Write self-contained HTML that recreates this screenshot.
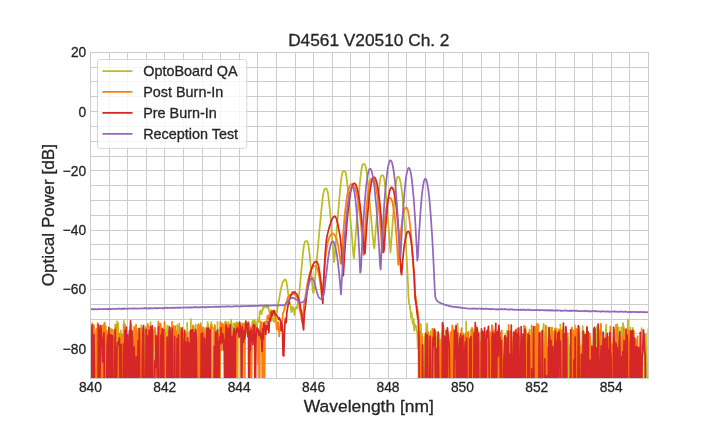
<!DOCTYPE html>
<html><head><meta charset="utf-8"><title>D4561 V20510 Ch. 2</title>
<style>
html,body{margin:0;padding:0;background:#fff;}
svg{display:block;will-change:transform;font-family:"Liberation Sans",sans-serif;fill:#262626;}
text{stroke:#262626;stroke-width:0.3;}
.ln{fill:none;stroke-width:1.75;stroke-linejoin:round;stroke-linecap:butt;}
.lg{fill:none;stroke-width:1.75;stroke-linecap:round;}
</style></head><body>
<svg width="720" height="432" viewBox="0 0 720 432">
<rect width="720" height="432" fill="#ffffff"/>
<defs><clipPath id="c"><rect x="90.0" y="52.0" width="558.0" height="326.0"/></clipPath></defs>
<path d="M109.5,52.5V378.5M127.5,52.5V378.5M146.5,52.5V378.5M164.5,52.5V378.5M183.5,52.5V378.5M202.5,52.5V378.5M220.5,52.5V378.5M239.5,52.5V378.5M257.5,52.5V378.5M276.5,52.5V378.5M295.5,52.5V378.5M313.5,52.5V378.5M332.5,52.5V378.5M350.5,52.5V378.5M369.5,52.5V378.5M388.5,52.5V378.5M406.5,52.5V378.5M425.5,52.5V378.5M443.5,52.5V378.5M462.5,52.5V378.5M481.5,52.5V378.5M499.5,52.5V378.5M518.5,52.5V378.5M536.5,52.5V378.5M555.5,52.5V378.5M574.5,52.5V378.5M592.5,52.5V378.5M611.5,52.5V378.5M629.5,52.5V378.5M90.5,67.5H648.5M90.5,81.5H648.5M90.5,96.5H648.5M90.5,111.5H648.5M90.5,126.5H648.5M90.5,141.5H648.5M90.5,156.5H648.5M90.5,170.5H648.5M90.5,185.5H648.5M90.5,200.5H648.5M90.5,215.5H648.5M90.5,230.5H648.5M90.5,244.5H648.5M90.5,259.5H648.5M90.5,274.5H648.5M90.5,289.5H648.5M90.5,304.5H648.5M90.5,319.5H648.5M90.5,333.5H648.5M90.5,348.5H648.5M90.5,363.5H648.5" stroke="#cccccc" stroke-width="1" fill="none"/>
<g clip-path="url(#c)">
<path class="ln" stroke="#bcbd22" d="M89.2,430.0 L89.8,430.0 L90.4,336.2 L91.1,430.0 L91.7,327.4 L92.3,323.2 L92.9,430.0 L93.5,337.2 L94.2,326.9 L94.8,334.5 L95.4,430.0 L96.6,430.0 L97.3,338.4 L97.9,430.0 L98.5,430.0 L99.1,343.1 L99.7,430.0 L102.2,430.0 L102.8,341.5 L103.5,430.0 L104.1,328.8 L104.7,324.0 L105.3,430.0 L105.9,326.2 L106.6,430.0 L107.2,430.0 L107.8,335.6 L108.4,430.0 L109.0,430.0 L109.7,328.3 L110.3,329.0 L110.9,430.0 L113.4,430.0 L114.0,350.2 L114.6,430.0 L115.2,324.4 L115.9,430.0 L116.5,430.0 L117.1,321.3 L117.7,340.0 L118.3,323.1 L119.0,430.0 L119.6,430.0 L120.2,342.9 L120.8,330.4 L121.4,430.0 L122.1,338.7 L122.7,430.0 L123.3,430.0 L123.9,321.0 L124.5,430.0 L125.2,324.3 L125.8,430.0 L126.4,328.3 L127.0,430.0 L128.3,430.0 L128.9,337.7 L129.5,430.0 L130.1,327.1 L130.7,328.4 L131.4,324.3 L132.0,430.0 L132.6,430.0 L133.2,338.7 L133.8,339.6 L134.5,330.8 L135.1,430.0 L135.7,430.0 L136.3,328.5 L136.9,430.0 L138.8,430.0 L139.4,328.6 L140.0,430.0 L140.7,430.0 L141.3,325.2 L141.9,430.0 L142.5,328.2 L143.1,330.4 L143.8,430.0 L144.4,430.0 L145.0,329.8 L145.6,328.4 L146.2,326.5 L146.9,342.9 L147.5,339.9 L148.1,340.0 L148.7,430.0 L150.0,430.0 L150.6,322.2 L151.2,430.0 L153.1,430.0 L153.7,332.3 L154.3,430.0 L155.5,430.0 L156.2,353.7 L156.8,430.0 L157.4,339.1 L158.0,430.0 L158.6,332.2 L159.3,430.0 L159.9,342.2 L160.5,430.0 L162.4,430.0 L163.0,331.7 L163.6,430.0 L166.1,430.0 L166.7,337.7 L167.3,326.2 L167.9,325.7 L168.6,430.0 L169.2,327.0 L169.8,430.0 L171.7,430.0 L172.3,329.0 L172.9,359.7 L173.5,430.0 L174.1,328.3 L174.8,430.0 L175.4,330.7 L176.0,430.0 L176.6,430.0 L177.2,325.0 L177.9,330.5 L178.5,352.2 L179.1,323.3 L179.7,430.0 L180.3,338.6 L181.0,430.0 L182.8,430.0 L183.4,331.6 L184.1,329.7 L184.7,368.6 L185.3,430.0 L186.5,430.0 L187.2,322.9 L187.8,430.0 L188.4,343.6 L189.0,430.0 L189.6,430.0 L190.3,343.4 L190.9,319.1 L191.5,430.0 L192.1,430.0 L192.7,334.7 L193.4,326.3 L194.0,430.0 L194.6,430.0 L195.2,328.7 L195.8,324.5 L196.5,430.0 L199.6,430.0 L200.2,335.4 L200.8,323.0 L201.4,430.0 L204.5,430.0 L205.1,329.2 L205.8,430.0 L206.4,327.1 L207.0,430.0 L207.6,322.1 L208.2,325.5 L208.9,430.0 L209.5,330.8 L210.1,327.3 L210.7,430.0 L211.3,322.2 L212.0,328.0 L212.6,327.9 L213.2,328.2 L213.8,328.2 L214.4,430.0 L215.1,326.8 L215.7,338.6 L216.3,331.9 L216.9,430.0 L217.5,322.0 L218.2,430.0 L218.8,330.2 L219.4,331.4 L220.0,328.3 L220.6,329.2 L221.3,327.7 L221.9,342.4 L222.5,328.9 L223.1,324.1 L223.7,345.5 L224.4,333.3 L225.0,328.9 L225.6,321.3 L226.2,333.2 L226.8,430.0 L227.5,322.7 L228.1,330.3 L228.7,322.2 L229.3,330.4 L229.9,324.8 L230.6,329.2 L231.2,319.7 L231.8,328.3 L232.4,353.8 L233.0,335.7 L233.7,323.3 L234.3,328.2 L234.9,323.3 L235.5,332.1 L236.1,323.2 L236.8,322.3 L237.4,430.0 L238.0,322.8 L238.6,326.2 L239.2,337.1 L239.9,329.3 L240.5,327.2 L241.1,324.8 L241.7,430.0 L242.3,324.6 L243.0,328.4 L243.6,325.2 L244.2,336.6 L244.8,322.8 L245.4,325.0 L246.1,333.7 L246.7,324.4 L247.3,331.2 L247.9,322.4 L248.5,321.4 L249.2,326.7 L249.8,326.2 L250.4,335.5 L251.0,330.7 L251.6,340.5 L252.3,322.4 L252.9,320.5 L253.5,336.6 L254.1,327.0 L254.7,319.8 L255.4,324.2 L256.0,329.3 L256.6,328.5 L257.2,322.0 L257.8,319.2 L258.5,322.3 L259.1,321.2 L259.7,311.6 L260.3,310.8 L260.9,313.5 L261.6,314.2 L262.2,309.6 L262.8,309.9 L263.4,305.9 L264.0,305.8 L264.7,307.4 L265.3,304.7 L265.9,306.3 L266.5,306.7 L267.1,307.8 L267.8,305.4 L268.4,306.6 L269.0,311.0 L269.6,311.9 L270.2,313.4 L270.9,311.1 L271.5,311.7 L272.1,316.0 L272.7,319.8 L273.3,320.4 L274.0,322.0 L274.6,316.0 L275.2,319.6 L275.8,315.8 L276.4,312.0 L277.1,312.3 L277.7,306.6 L278.3,302.3 L278.9,301.1 L279.5,297.0 L280.2,292.9 L280.8,290.2 L281.4,286.9 L282.0,284.9 L282.6,282.3 L283.3,281.3 L283.9,280.8 L284.5,279.3 L285.1,279.6 L285.7,280.0 L286.4,281.9 L287.0,284.9 L287.6,289.2 L288.2,293.9 L288.8,298.3 L289.5,302.2 L290.1,303.0 L290.7,307.0 L291.3,312.2 L291.9,311.6 L292.6,306.7 L293.2,308.5 L293.8,308.0 L294.4,314.9 L295.0,309.9 L295.7,308.1 L296.3,307.4 L296.9,308.7 L297.5,304.5 L298.1,301.4 L298.8,297.0 L299.4,292.0 L300.0,285.3 L300.6,278.5 L301.2,271.4 L301.9,264.4 L302.5,257.9 L303.1,251.9 L303.7,247.1 L304.3,243.7 L305.0,241.7 L305.6,241.0 L306.2,241.0 L306.8,241.1 L307.4,241.8 L308.1,243.7 L308.7,247.0 L309.3,251.9 L309.9,257.7 L310.5,264.2 L311.2,271.3 L311.8,278.6 L312.4,286.1 L313.0,292.7 L313.6,292.8 L314.3,287.0 L314.9,280.4 L315.5,273.7 L316.1,267.1 L316.7,260.5 L317.4,253.7 L318.0,246.8 L318.6,240.0 L319.2,233.2 L319.8,226.4 L320.5,219.7 L321.1,213.1 L321.7,206.9 L322.3,201.2 L322.9,196.2 L323.6,192.4 L324.2,190.0 L324.8,188.9 L325.4,188.6 L326.0,188.6 L326.7,189.0 L327.3,190.3 L327.9,193.0 L328.5,197.2 L329.1,202.7 L329.8,209.1 L330.4,216.0 L331.0,223.3 L331.6,230.9 L332.2,238.6 L332.9,246.4 L333.5,254.3 L334.1,262.1 L334.7,256.7 L335.3,248.6 L336.0,240.6 L336.6,232.6 L337.2,224.7 L337.8,216.8 L338.4,209.1 L339.1,201.6 L339.7,194.5 L340.3,187.8 L340.9,181.9 L341.5,177.0 L342.2,173.6 L342.8,171.7 L343.4,171.1 L344.0,171.0 L344.6,171.1 L345.3,171.8 L345.9,173.8 L346.5,177.2 L347.1,182.0 L347.7,187.8 L348.4,194.3 L349.0,201.3 L349.6,208.6 L350.2,216.0 L350.8,223.6 L351.5,231.2 L352.1,238.9 L352.7,246.5 L353.3,254.2 L353.9,258.3 L354.6,250.1 L355.2,242.0 L355.8,233.8 L356.4,225.7 L357.0,217.7 L357.7,209.8 L358.3,202.0 L358.9,194.5 L359.5,187.3 L360.1,180.6 L360.8,174.6 L361.4,169.8 L362.0,166.5 L362.6,164.7 L363.2,164.1 L363.9,164.0 L364.5,164.1 L365.1,164.9 L365.7,166.8 L366.3,170.1 L367.0,174.7 L367.6,180.2 L368.2,186.3 L368.8,192.7 L369.4,199.4 L370.1,206.1 L370.7,213.0 L371.3,219.8 L371.9,226.6 L372.5,233.4 L373.2,240.1 L373.8,246.8 L374.4,248.5 L375.0,239.9 L375.6,231.4 L376.3,223.0 L376.9,214.7 L377.5,206.7 L378.1,199.0 L378.7,191.9 L379.4,185.6 L380.0,180.7 L380.6,177.4 L381.2,175.8 L381.8,175.3 L382.5,175.3 L383.1,175.6 L383.7,176.9 L384.3,179.7 L384.9,184.2 L385.6,190.1 L386.2,196.8 L386.8,204.2 L387.4,212.0 L388.0,220.0 L388.7,228.2 L389.3,236.5 L389.9,244.8 L390.5,252.7 L391.1,243.9 L391.8,235.1 L392.4,226.4 L393.0,217.8 L393.6,209.5 L394.2,201.5 L394.9,194.1 L395.5,187.5 L396.1,182.3 L396.7,178.8 L397.3,177.1 L398.0,176.6 L398.6,176.7 L399.2,177.5 L399.8,179.3 L400.4,181.9 L401.1,185.3 L401.7,189.7 L402.3,194.9 L402.9,201.1 L403.5,208.1 L404.2,216.0 L404.8,224.7 L405.4,234.4 L406.0,244.9 L406.6,256.4 L407.3,268.5 L407.9,281.6 L408.5,297.1 L409.1,303.9 L409.7,305.1 L410.4,309.9 L411.0,317.4 L411.6,312.6 L412.2,319.0 L412.8,323.8 L413.5,318.9 L414.1,330.7 L414.7,324.1 L415.3,326.7 L415.9,326.0 L416.6,331.0 L417.2,332.2 L417.8,348.3 L418.4,342.4 L419.0,430.0 L419.7,430.0 L420.3,346.9 L420.9,324.0 L421.5,344.4 L422.1,333.8 L422.8,430.0 L424.0,430.0 L424.6,345.2 L425.2,334.9 L425.9,430.0 L426.5,330.8 L427.1,323.5 L427.7,335.5 L428.3,430.0 L429.0,430.0 L429.6,341.3 L430.2,430.0 L430.8,331.1 L431.4,430.0 L432.1,430.0 L432.7,344.8 L433.3,430.0 L433.9,430.0 L434.5,355.8 L435.2,430.0 L435.8,331.1 L436.4,430.0 L437.0,336.8 L437.6,430.0 L438.3,430.0 L438.9,334.8 L439.5,334.7 L440.1,430.0 L441.4,430.0 L442.0,334.2 L442.6,330.9 L443.2,326.2 L443.8,329.2 L444.5,430.0 L445.1,350.0 L445.7,430.0 L446.3,340.4 L446.9,335.5 L447.6,332.4 L448.2,343.4 L448.8,348.6 L449.4,360.4 L450.0,430.0 L450.7,337.5 L451.3,430.0 L455.0,430.0 L455.6,326.7 L456.2,430.0 L456.9,430.0 L457.5,323.6 L458.1,333.2 L458.7,430.0 L460.0,430.0 L460.6,345.9 L461.2,333.9 L461.8,344.9 L462.4,343.4 L463.1,430.0 L465.5,430.0 L466.2,321.5 L466.8,430.0 L469.9,430.0 L470.5,333.5 L471.1,329.7 L471.7,334.3 L472.4,430.0 L473.6,430.0 L474.2,330.0 L474.8,430.0 L475.5,430.0 L476.1,352.0 L476.7,430.0 L477.3,430.0 L477.9,330.7 L478.6,430.0 L479.2,430.0 L479.8,332.6 L480.4,430.0 L482.9,430.0 L483.5,334.5 L484.1,430.0 L484.8,430.0 L485.4,340.6 L486.0,430.0 L486.6,430.0 L487.2,346.4 L487.9,331.2 L488.5,430.0 L492.2,430.0 L492.8,366.2 L493.4,430.0 L497.2,430.0 L497.8,337.6 L498.4,329.6 L499.0,333.9 L499.6,430.0 L500.3,430.0 L500.9,343.9 L501.5,430.0 L502.1,340.9 L502.7,430.0 L504.6,430.0 L505.2,340.5 L505.8,343.7 L506.5,350.0 L507.1,330.5 L507.7,344.9 L508.3,430.0 L508.9,430.0 L509.6,330.6 L510.2,430.0 L512.7,430.0 L513.3,355.0 L513.9,355.8 L514.5,430.0 L515.1,430.0 L515.8,331.7 L516.4,350.3 L517.0,430.0 L523.8,430.0 L524.4,353.7 L525.1,430.0 L525.7,326.8 L526.3,430.0 L528.2,430.0 L528.8,348.1 L529.4,329.5 L530.0,331.6 L530.6,430.0 L531.3,430.0 L531.9,333.2 L532.5,430.0 L534.4,430.0 L535.0,327.7 L535.6,430.0 L536.8,430.0 L537.5,324.8 L538.1,335.9 L538.7,324.5 L539.3,430.0 L540.6,430.0 L541.2,331.5 L541.8,430.0 L542.4,333.6 L543.0,330.9 L543.7,323.8 L544.3,430.0 L544.9,430.0 L545.5,335.5 L546.1,326.5 L546.8,430.0 L548.0,430.0 L548.6,327.6 L549.2,430.0 L549.9,330.4 L550.5,430.0 L551.1,327.6 L551.7,430.0 L552.3,331.2 L553.0,430.0 L553.6,331.9 L554.2,430.0 L554.8,335.7 L555.4,430.0 L556.1,430.0 L556.7,328.5 L557.3,348.3 L557.9,336.6 L558.5,333.4 L559.2,334.2 L559.8,430.0 L560.4,324.4 L561.0,430.0 L561.6,347.8 L562.3,430.0 L562.9,353.1 L563.5,327.4 L564.1,430.0 L564.7,430.0 L565.4,336.6 L566.0,330.1 L566.6,430.0 L567.2,430.0 L567.8,333.5 L568.5,346.6 L569.1,345.4 L569.7,430.0 L572.8,430.0 L573.4,332.8 L574.0,348.7 L574.7,430.0 L575.3,325.4 L575.9,430.0 L576.5,430.0 L577.1,331.4 L577.8,430.0 L578.4,338.7 L579.0,430.0 L579.6,430.0 L580.2,346.0 L580.9,430.0 L581.5,430.0 L582.1,347.8 L582.7,326.0 L583.3,430.0 L584.0,332.2 L584.6,333.5 L585.2,430.0 L586.4,430.0 L587.1,326.4 L587.7,430.0 L588.9,430.0 L589.5,337.5 L590.2,346.1 L590.8,430.0 L593.3,430.0 L593.9,332.2 L594.5,430.0 L595.1,332.2 L595.7,339.9 L596.4,430.0 L597.0,326.5 L597.6,359.0 L598.2,328.7 L598.8,331.0 L599.5,341.4 L600.1,430.0 L600.7,347.0 L601.3,430.0 L605.0,430.0 L605.7,332.5 L606.3,324.5 L606.9,430.0 L608.1,430.0 L608.8,337.5 L609.4,430.0 L610.0,341.8 L610.6,350.1 L611.2,430.0 L611.9,378.2 L612.5,430.0 L613.1,430.0 L613.7,340.7 L614.3,354.9 L615.0,430.0 L615.6,324.9 L616.2,430.0 L616.8,329.1 L617.4,430.0 L618.1,332.3 L618.7,327.4 L619.3,430.0 L620.5,430.0 L621.2,327.3 L621.8,346.2 L622.4,335.3 L623.0,323.0 L623.6,327.3 L624.3,430.0 L626.1,430.0 L626.7,341.0 L627.4,337.7 L628.0,319.4 L628.6,430.0 L629.8,430.0 L630.5,327.7 L631.1,336.2 L631.7,430.0 L632.3,430.0 L632.9,327.9 L633.6,430.0 L634.2,430.0 L634.8,346.7 L635.4,430.0 L636.0,350.1 L636.7,430.0 L637.9,430.0 L638.5,365.2 L639.1,430.0 L640.4,430.0 L641.0,371.5 L641.6,328.2 L642.2,430.0 L644.1,430.0 L644.7,334.6 L645.3,430.0 L646.0,334.5 L646.6,430.0 L647.8,430.0 L648.4,328.7 L649.1,363.2"/>
<path class="ln" stroke="#ff7f0e" d="M89.5,430.0 L90.1,397.5 L90.7,325.4 L91.4,328.0 L92.0,339.1 L92.6,430.0 L93.2,430.0 L93.8,324.8 L94.5,430.0 L95.1,362.2 L95.7,430.0 L96.3,328.8 L96.9,430.0 L97.6,323.0 L98.2,349.8 L98.8,430.0 L99.4,326.7 L100.0,430.0 L100.7,430.0 L101.3,341.9 L101.9,430.0 L102.5,345.3 L103.1,325.2 L103.8,430.0 L104.4,322.7 L105.0,328.4 L105.6,430.0 L106.2,430.0 L106.9,330.9 L107.5,430.0 L108.7,430.0 L109.3,348.7 L110.0,430.0 L110.6,430.0 L111.2,331.9 L111.8,329.2 L112.4,330.2 L113.1,331.4 L113.7,359.2 L114.3,430.0 L114.9,342.1 L115.5,430.0 L116.2,325.3 L116.8,430.0 L118.6,430.0 L119.3,333.6 L119.9,391.3 L120.5,430.0 L121.1,430.0 L121.7,334.4 L122.4,344.4 L123.0,430.0 L123.6,324.9 L124.2,329.5 L124.8,430.0 L125.5,335.0 L126.1,343.2 L126.7,430.0 L127.9,430.0 L128.6,339.4 L129.2,430.0 L129.8,430.0 L130.4,356.9 L131.0,430.0 L133.5,430.0 L134.1,326.7 L134.8,341.7 L135.4,430.0 L136.0,324.5 L136.6,344.1 L137.2,430.0 L137.9,335.1 L138.5,328.9 L139.1,430.0 L139.7,336.7 L140.3,332.8 L141.0,430.0 L141.6,328.1 L142.2,430.0 L142.8,430.0 L143.4,333.1 L144.1,430.0 L146.5,430.0 L147.2,339.0 L147.8,323.9 L148.4,330.3 L149.0,343.3 L149.6,430.0 L150.3,430.0 L150.9,332.8 L151.5,430.0 L152.1,430.0 L152.7,329.3 L153.4,351.6 L154.0,339.1 L154.6,330.5 L155.2,327.7 L155.8,340.5 L156.5,430.0 L157.1,430.0 L157.7,346.4 L158.3,321.7 L158.9,332.8 L159.6,430.0 L160.2,323.4 L160.8,324.9 L161.4,430.0 L162.0,340.4 L162.7,430.0 L163.3,330.7 L163.9,430.0 L164.5,321.7 L165.1,332.5 L165.8,430.0 L166.4,430.0 L167.0,345.0 L167.6,430.0 L168.2,430.0 L168.9,339.8 L169.5,430.0 L170.1,430.0 L170.7,330.8 L171.3,430.0 L172.0,321.9 L172.6,430.0 L173.2,329.4 L173.8,326.0 L174.4,430.0 L175.1,326.1 L175.7,430.0 L176.3,331.2 L176.9,430.0 L178.8,430.0 L179.4,331.8 L180.0,327.3 L180.6,335.1 L181.3,430.0 L181.9,376.7 L182.5,430.0 L183.1,430.0 L183.7,339.7 L184.4,430.0 L185.0,372.5 L185.6,332.5 L186.2,334.5 L186.8,338.5 L187.5,430.0 L188.7,430.0 L189.3,332.1 L189.9,430.0 L190.6,329.9 L191.2,430.0 L191.8,335.0 L192.4,335.6 L193.0,325.3 L193.7,330.1 L194.3,430.0 L194.9,430.0 L195.5,331.8 L196.1,430.0 L197.4,430.0 L198.0,325.6 L198.6,324.1 L199.2,430.0 L199.9,430.0 L200.5,325.3 L201.1,327.4 L201.7,430.0 L202.3,328.2 L203.0,430.0 L203.6,327.3 L204.2,335.2 L204.8,430.0 L206.1,430.0 L206.7,340.4 L207.3,430.0 L207.9,337.2 L208.5,340.9 L209.2,430.0 L209.8,328.9 L210.4,430.0 L211.0,324.9 L211.6,325.8 L212.3,430.0 L214.1,430.0 L214.7,325.0 L215.4,430.0 L216.0,333.0 L216.6,430.0 L217.8,430.0 L218.5,333.8 L219.1,430.0 L219.7,430.0 L220.3,321.9 L220.9,327.0 L221.6,350.4 L222.2,323.5 L222.8,325.3 L223.4,331.5 L224.0,340.8 L224.7,329.6 L225.3,322.2 L225.9,341.8 L226.5,324.7 L227.1,330.3 L227.8,334.3 L228.4,325.2 L229.0,430.0 L229.6,430.0 L230.2,329.7 L230.9,345.0 L231.5,332.6 L232.1,343.3 L232.7,350.0 L233.3,341.2 L234.0,340.0 L234.6,330.3 L235.2,430.0 L235.8,324.6 L236.4,381.9 L237.1,324.2 L237.7,326.9 L238.3,323.6 L238.9,324.2 L239.5,332.2 L240.2,333.6 L240.8,325.4 L241.4,334.9 L242.0,323.3 L242.6,327.8 L243.3,324.7 L243.9,323.7 L244.5,430.0 L245.1,332.0 L245.7,329.8 L246.4,331.7 L247.0,329.9 L247.6,330.3 L248.2,326.4 L248.8,328.6 L249.5,337.7 L250.1,336.0 L250.7,327.3 L251.3,430.0 L251.9,333.5 L252.6,326.8 L253.2,322.8 L253.8,333.3 L254.4,343.3 L255.0,325.9 L255.7,326.3 L256.3,334.1 L256.9,330.5 L257.5,351.9 L258.1,364.2 L258.8,333.9 L259.4,430.0 L260.0,330.3 L260.6,321.4 L261.2,334.0 L261.9,322.3 L262.5,430.0 L263.1,327.9 L263.7,329.6 L264.3,430.0 L265.0,321.7 L265.6,321.7 L266.2,323.7 L266.8,321.9 L267.4,315.8 L268.1,318.9 L268.7,315.4 L269.3,319.2 L269.9,313.2 L270.5,315.2 L271.2,310.3 L271.8,310.5 L272.4,312.0 L273.0,310.9 L273.6,310.6 L274.3,316.4 L274.9,315.9 L275.5,315.6 L276.1,322.1 L276.7,329.5 L277.4,329.5 L278.0,322.1 L278.6,323.0 L279.2,336.4 L279.8,327.3 L280.5,330.3 L281.1,322.0 L281.7,321.2 L282.3,321.4 L282.9,313.2 L283.6,311.9 L284.2,309.9 L284.8,306.4 L285.4,305.9 L286.0,302.5 L286.7,302.2 L287.3,299.1 L287.9,297.4 L288.5,297.1 L289.1,295.3 L289.8,295.0 L290.4,295.0 L291.0,294.5 L291.6,293.7 L292.2,293.9 L292.9,292.9 L293.5,293.7 L294.1,294.0 L294.7,293.4 L295.3,295.4 L296.0,296.5 L296.6,296.5 L297.2,297.3 L297.8,299.4 L298.4,302.1 L299.1,303.7 L299.7,310.3 L300.3,312.6 L300.9,314.0 L301.5,318.8 L302.2,322.6 L302.8,314.9 L303.4,312.0 L304.0,304.1 L304.6,303.1 L305.3,297.7 L305.9,293.1 L306.5,289.1 L307.1,285.7 L307.7,282.1 L308.4,279.0 L309.0,276.4 L309.6,274.1 L310.2,272.1 L310.8,270.5 L311.5,269.1 L312.1,268.0 L312.7,267.1 L313.3,266.6 L313.9,266.2 L314.6,266.0 L315.2,266.1 L315.8,266.3 L316.4,266.9 L317.0,268.1 L317.7,269.6 L318.3,272.0 L318.9,274.6 L319.5,278.3 L320.1,282.6 L320.8,287.2 L321.4,293.2 L322.0,299.3 L322.6,296.5 L323.2,285.5 L323.9,276.1 L324.5,267.9 L325.1,261.2 L325.7,255.5 L326.3,250.7 L327.0,246.7 L327.6,243.3 L328.2,240.6 L328.8,238.8 L329.4,237.2 L330.1,236.0 L330.7,234.9 L331.3,234.2 L331.9,233.7 L332.5,233.5 L333.2,233.6 L333.8,234.0 L334.4,234.8 L335.0,235.7 L335.6,237.0 L336.3,238.5 L336.9,240.1 L337.5,242.6 L338.1,245.6 L338.7,249.2 L339.4,253.3 L340.0,258.1 L340.6,263.7 L341.2,263.8 L341.8,253.4 L342.5,243.8 L343.1,235.0 L343.7,227.0 L344.3,219.7 L344.9,213.2 L345.6,207.5 L346.2,202.4 L346.8,198.1 L347.4,194.4 L348.0,191.3 L348.7,188.8 L349.3,186.9 L349.9,185.6 L350.5,184.7 L351.1,184.3 L351.8,184.2 L352.4,184.3 L353.0,184.6 L353.6,185.3 L354.2,186.3 L354.9,187.6 L355.5,189.3 L356.1,191.5 L356.7,194.1 L357.3,197.1 L358.0,200.6 L358.6,204.6 L359.2,209.0 L359.8,214.0 L360.4,219.5 L361.1,225.5 L361.7,232.1 L362.3,239.2 L362.9,246.9 L363.5,255.2 L364.2,244.6 L364.8,233.2 L365.4,222.9 L366.0,213.9 L366.6,206.0 L367.3,199.1 L367.9,193.4 L368.5,188.7 L369.1,184.9 L369.7,182.1 L370.4,180.1 L371.0,178.9 L371.6,178.4 L372.2,178.3 L372.8,178.5 L373.5,179.2 L374.1,180.2 L374.7,181.8 L375.3,184.0 L375.9,186.7 L376.6,190.1 L377.2,194.1 L377.8,198.8 L378.4,204.2 L379.0,210.3 L379.7,217.1 L380.3,224.7 L380.9,233.1 L381.5,242.3 L382.1,252.3 L382.8,247.2 L383.4,237.6 L384.0,229.2 L384.6,221.9 L385.2,215.7 L385.9,210.5 L386.5,206.2 L387.1,203.0 L387.7,200.6 L388.3,199.0 L389.0,198.1 L389.6,197.8 L390.2,197.9 L390.8,198.4 L391.4,199.5 L392.1,201.3 L392.7,203.7 L393.3,207.0 L393.9,211.0 L394.5,215.9 L395.2,221.7 L395.8,228.4 L396.4,236.1 L397.0,244.7 L397.6,254.3 L398.3,265.0 L398.9,256.5 L399.5,247.5 L400.1,239.6 L400.7,232.7 L401.4,226.7 L402.0,221.6 L402.6,217.4 L403.2,214.0 L403.8,211.4 L404.5,209.5 L405.1,208.3 L405.7,207.7 L406.3,207.5 L406.9,208.0 L407.6,209.4 L408.2,211.8 L408.8,215.1 L409.4,219.4 L410.0,224.5 L410.7,230.6 L411.3,237.7 L411.9,245.7 L412.5,254.6 L413.1,264.4 L413.8,275.3 L414.4,287.0 L415.0,298.7 L415.6,296.0 L416.2,300.2 L416.9,305.8 L417.5,310.3 L418.1,312.8 L418.7,320.8 L419.3,430.0 L420.0,332.1 L420.6,430.0 L421.2,430.0 L421.8,341.0 L422.4,336.4 L423.1,430.0 L426.8,430.0 L427.4,332.2 L428.0,341.7 L428.6,332.5 L429.3,430.0 L429.9,430.0 L430.5,340.7 L431.1,360.6 L431.7,430.0 L432.4,328.8 L433.0,430.0 L433.6,329.3 L434.2,330.2 L434.8,333.8 L435.5,341.6 L436.1,430.0 L437.3,430.0 L437.9,335.7 L438.6,430.0 L439.2,347.9 L439.8,339.3 L440.4,430.0 L441.0,430.0 L441.7,339.0 L442.3,430.0 L442.9,353.1 L443.5,430.0 L444.1,430.0 L444.8,337.8 L445.4,430.0 L446.6,430.0 L447.2,350.3 L447.9,337.6 L448.5,335.1 L449.1,430.0 L449.7,430.0 L450.3,347.1 L451.0,331.7 L451.6,430.0 L452.2,325.3 L452.8,329.2 L453.4,430.0 L454.7,430.0 L455.3,358.7 L455.9,332.9 L456.5,430.0 L457.2,430.0 L457.8,355.0 L458.4,430.0 L459.0,430.0 L459.6,339.4 L460.3,338.2 L460.9,336.7 L461.5,328.1 L462.1,358.1 L462.7,341.7 L463.4,333.4 L464.0,430.0 L464.6,430.0 L465.2,335.5 L465.8,333.9 L466.5,430.0 L467.1,430.0 L467.7,333.4 L468.3,331.8 L468.9,430.0 L469.6,339.2 L470.2,430.0 L471.4,430.0 L472.0,327.9 L472.7,332.0 L473.3,430.0 L473.9,332.5 L474.5,335.0 L475.1,430.0 L475.8,326.0 L476.4,334.6 L477.0,430.0 L479.5,430.0 L480.1,341.1 L480.7,430.0 L481.3,342.0 L482.0,430.0 L485.7,430.0 L486.3,343.0 L486.9,430.0 L487.5,342.1 L488.2,365.7 L488.8,430.0 L489.4,380.8 L490.0,430.0 L490.6,331.9 L491.3,430.0 L491.9,325.1 L492.5,326.7 L493.1,430.0 L493.7,330.4 L494.4,430.0 L495.0,333.7 L495.6,430.0 L498.1,430.0 L498.7,328.8 L499.3,339.8 L499.9,332.2 L500.6,430.0 L501.2,338.5 L501.8,330.5 L502.4,430.0 L504.3,430.0 L504.9,363.3 L505.5,430.0 L506.1,363.0 L506.8,430.0 L508.0,430.0 L508.6,324.8 L509.2,356.8 L509.9,430.0 L510.5,331.2 L511.1,333.4 L511.7,340.2 L512.3,430.0 L513.0,430.0 L513.6,332.9 L514.2,430.0 L514.8,430.0 L515.4,332.0 L516.1,430.0 L516.7,329.3 L517.3,336.5 L517.9,328.3 L518.5,430.0 L519.2,336.4 L519.8,430.0 L521.6,430.0 L522.3,339.0 L522.9,336.9 L523.5,430.0 L524.1,325.6 L524.7,327.3 L525.4,430.0 L526.0,331.2 L526.6,430.0 L527.2,430.0 L527.8,341.0 L528.5,430.0 L529.1,332.2 L529.7,430.0 L530.9,430.0 L531.6,325.5 L532.2,342.9 L532.8,430.0 L534.0,430.0 L534.7,349.4 L535.3,326.6 L535.9,430.0 L536.5,352.0 L537.1,323.7 L537.8,324.9 L538.4,430.0 L539.0,333.7 L539.6,343.6 L540.2,430.0 L541.5,430.0 L542.1,333.6 L542.7,345.9 L543.3,430.0 L544.0,430.0 L544.6,343.6 L545.2,344.4 L545.8,325.5 L546.4,430.0 L547.1,347.5 L547.7,430.0 L548.3,357.4 L548.9,331.9 L549.5,430.0 L550.2,336.7 L550.8,345.8 L551.4,345.1 L552.0,327.5 L552.6,430.0 L553.3,430.0 L553.9,372.5 L554.5,430.0 L555.1,328.3 L555.7,430.0 L556.4,333.0 L557.0,430.0 L558.2,430.0 L558.8,329.3 L559.5,430.0 L560.1,430.0 L560.7,329.8 L561.3,334.7 L561.9,430.0 L562.6,349.9 L563.2,328.2 L563.8,430.0 L566.3,430.0 L566.9,332.9 L567.5,430.0 L570.0,430.0 L570.6,333.1 L571.2,335.4 L571.9,327.4 L572.5,333.8 L573.1,430.0 L573.7,430.0 L574.3,330.0 L575.0,430.0 L575.6,430.0 L576.2,328.8 L576.8,329.6 L577.4,430.0 L578.7,430.0 L579.3,327.2 L579.9,358.8 L580.5,430.0 L581.8,430.0 L582.4,344.7 L583.0,372.6 L583.6,430.0 L584.9,430.0 L585.5,335.6 L586.1,338.4 L586.7,430.0 L588.0,430.0 L588.6,347.8 L589.2,430.0 L589.8,333.8 L590.5,340.6 L591.1,364.4 L591.7,430.0 L592.9,430.0 L593.6,341.6 L594.2,430.0 L597.3,430.0 L597.9,339.6 L598.5,430.0 L599.8,430.0 L600.4,332.1 L601.0,323.7 L601.6,430.0 L602.2,430.0 L602.9,339.0 L603.5,366.7 L604.1,345.9 L604.7,430.0 L605.3,351.0 L606.0,430.0 L607.8,430.0 L608.4,337.2 L609.1,342.8 L609.7,430.0 L610.3,326.6 L610.9,430.0 L611.5,430.0 L612.2,344.1 L612.8,430.0 L613.4,344.8 L614.0,329.5 L614.6,354.1 L615.3,430.0 L616.5,430.0 L617.1,324.3 L617.7,351.5 L618.4,430.0 L619.0,430.0 L619.6,350.6 L620.2,354.7 L620.8,430.0 L621.5,348.2 L622.1,337.2 L622.7,335.9 L623.3,374.9 L623.9,328.0 L624.6,430.0 L625.2,360.1 L625.8,430.0 L626.4,340.9 L627.0,342.5 L627.7,430.0 L628.3,330.1 L628.9,330.8 L629.5,430.0 L630.1,430.0 L630.8,358.9 L631.4,333.6 L632.0,430.0 L632.6,430.0 L633.2,334.7 L633.9,331.0 L634.5,430.0 L635.7,430.0 L636.3,339.3 L637.0,430.0 L637.6,336.1 L638.2,430.0 L638.8,355.2 L639.4,430.0 L640.7,430.0 L641.3,344.9 L641.9,430.0 L648.7,430.0 L649.4,323.9"/>
<path class="ln" stroke="#d62728" d="M89.7,333.3 L90.3,430.0 L90.9,430.0 L91.6,338.1 L92.2,325.1 L92.8,430.0 L93.4,430.0 L94.0,334.5 L94.7,430.0 L97.8,430.0 L98.4,324.7 L99.0,330.4 L99.6,430.0 L100.2,347.4 L100.9,325.6 L101.5,339.5 L102.1,346.3 L102.7,361.8 L103.3,340.7 L104.0,332.8 L104.6,430.0 L106.4,430.0 L107.1,347.6 L107.7,335.1 L108.3,430.0 L108.9,327.5 L109.5,430.0 L110.2,334.5 L110.8,337.6 L111.4,430.0 L112.0,335.1 L112.6,336.1 L113.3,430.0 L114.5,430.0 L115.1,329.4 L115.7,430.0 L116.4,430.0 L117.0,347.9 L117.6,342.4 L118.2,344.4 L118.8,341.9 L119.5,337.9 L120.1,430.0 L120.7,430.0 L121.3,344.4 L121.9,430.0 L123.2,430.0 L123.8,343.7 L124.4,430.0 L125.0,330.3 L125.7,430.0 L126.3,327.1 L126.9,430.0 L127.5,334.8 L128.1,430.0 L128.8,430.0 L129.4,330.9 L130.0,335.6 L130.6,320.9 L131.2,430.0 L131.9,330.5 L132.5,340.6 L133.1,430.0 L133.7,430.0 L134.3,347.0 L135.0,430.0 L135.6,430.0 L136.2,356.9 L136.8,430.0 L137.4,430.0 L138.1,341.0 L138.7,430.0 L139.3,328.5 L139.9,430.0 L141.8,430.0 L142.4,354.2 L143.0,329.2 L143.6,325.5 L144.3,430.0 L145.5,430.0 L146.1,329.4 L146.7,430.0 L147.4,336.0 L148.0,347.1 L148.6,430.0 L149.2,330.3 L149.8,430.0 L150.5,326.5 L151.1,430.0 L151.7,430.0 L152.3,325.9 L152.9,430.0 L153.6,380.8 L154.2,430.0 L154.8,361.0 L155.4,368.1 L156.0,335.5 L156.7,336.6 L157.3,369.6 L157.9,430.0 L158.5,326.9 L159.1,430.0 L160.4,430.0 L161.0,335.1 L161.6,430.0 L162.2,328.5 L162.9,430.0 L163.5,329.7 L164.1,430.0 L166.6,430.0 L167.2,337.2 L167.8,430.0 L168.4,430.0 L169.1,332.4 L169.7,327.0 L170.3,332.4 L170.9,430.0 L171.5,430.0 L172.2,328.1 L172.8,430.0 L174.0,430.0 L174.6,336.3 L175.3,430.0 L176.5,430.0 L177.1,338.6 L177.7,430.0 L178.4,334.9 L179.0,430.0 L180.8,430.0 L181.5,333.6 L182.1,327.9 L182.7,430.0 L183.3,347.7 L183.9,346.0 L184.6,330.6 L185.2,430.0 L185.8,341.8 L186.4,345.5 L187.0,430.0 L187.7,337.9 L188.3,430.0 L188.9,342.9 L189.5,430.0 L190.1,430.0 L190.8,330.4 L191.4,330.3 L192.0,430.0 L192.6,329.9 L193.2,430.0 L193.9,430.0 L194.5,332.7 L195.1,430.0 L195.7,329.6 L196.3,340.2 L197.0,430.0 L200.7,430.0 L201.3,333.5 L201.9,430.0 L202.5,332.9 L203.2,430.0 L203.8,430.0 L204.4,338.1 L205.0,430.0 L205.6,359.8 L206.3,343.2 L206.9,328.4 L207.5,430.0 L208.1,328.1 L208.7,430.0 L209.4,339.9 L210.0,329.8 L210.6,430.0 L213.7,430.0 L214.3,346.4 L214.9,430.0 L215.6,332.2 L216.2,430.0 L216.8,430.0 L217.4,330.2 L218.0,430.0 L218.7,430.0 L219.3,341.0 L219.9,336.8 L220.5,343.8 L221.1,327.7 L221.8,342.3 L222.4,335.6 L223.0,334.0 L223.6,349.9 L224.2,340.3 L224.9,430.0 L225.5,339.1 L226.1,325.0 L226.7,330.5 L227.3,430.0 L228.0,328.1 L228.6,430.0 L229.2,430.0 L229.8,329.8 L230.4,324.9 L231.1,430.0 L231.7,343.0 L232.3,336.7 L232.9,430.0 L233.5,333.4 L234.2,328.6 L234.8,430.0 L235.4,331.7 L236.0,334.4 L236.6,329.7 L237.3,328.0 L237.9,331.8 L238.5,330.5 L239.1,337.1 L239.7,322.1 L240.4,330.3 L241.0,332.0 L241.6,430.0 L242.2,326.9 L242.8,334.3 L243.5,342.1 L244.1,330.8 L244.7,338.5 L245.3,331.8 L245.9,321.0 L246.6,328.5 L247.2,324.1 L247.8,336.5 L248.4,323.0 L249.0,430.0 L249.7,331.8 L250.3,350.4 L250.9,329.4 L251.5,335.0 L252.1,336.4 L252.8,344.6 L253.4,325.0 L254.0,325.3 L254.6,325.2 L255.2,430.0 L255.9,339.0 L256.5,332.6 L257.1,327.9 L257.7,330.8 L258.3,329.3 L259.0,335.1 L259.6,331.7 L260.2,332.6 L260.8,338.2 L261.4,334.4 L262.1,351.5 L262.7,329.0 L263.3,339.1 L263.9,323.0 L264.5,328.8 L265.2,325.5 L265.8,334.4 L266.4,325.7 L267.0,327.4 L267.6,329.3 L268.3,322.0 L268.9,332.4 L269.5,318.3 L270.1,320.5 L270.7,320.8 L271.4,312.2 L272.0,315.5 L272.6,312.0 L273.2,313.1 L273.8,310.7 L274.5,310.9 L275.1,314.2 L275.7,314.8 L276.3,314.6 L276.9,315.7 L277.6,316.8 L278.2,317.5 L278.8,319.4 L279.4,317.8 L280.0,319.5 L280.7,321.5 L281.3,330.6 L281.9,322.9 L282.5,329.4 L283.1,355.5 L283.8,355.9 L284.4,334.3 L285.0,321.9 L285.6,318.5 L286.2,322.6 L286.9,312.0 L287.5,308.5 L288.1,304.6 L288.7,304.5 L289.3,299.9 L290.0,298.9 L290.6,296.0 L291.2,295.1 L291.8,294.4 L292.4,292.3 L293.1,292.1 L293.7,292.4 L294.3,292.0 L294.9,291.8 L295.5,293.4 L296.2,293.3 L296.8,294.4 L297.4,295.3 L298.0,297.6 L298.6,298.5 L299.3,301.0 L299.9,303.2 L300.5,308.8 L301.1,310.4 L301.7,313.9 L302.4,319.4 L303.0,326.2 L303.6,329.9 L304.2,315.7 L304.8,310.4 L305.5,305.5 L306.1,300.0 L306.7,295.1 L307.3,290.8 L307.9,286.1 L308.6,282.4 L309.2,279.0 L309.8,275.9 L310.4,273.1 L311.0,270.8 L311.7,268.5 L312.3,266.6 L312.9,265.0 L313.5,263.8 L314.1,262.8 L314.8,262.1 L315.4,261.7 L316.0,261.5 L316.6,261.6 L317.2,262.4 L317.9,263.8 L318.5,266.0 L319.1,269.1 L319.7,272.8 L320.3,277.3 L321.0,282.9 L321.6,288.7 L322.2,295.9 L322.8,303.4 L323.4,289.0 L324.1,274.0 L324.7,262.2 L325.3,252.8 L325.9,245.3 L326.5,239.1 L327.2,235.7 L327.8,233.1 L328.4,230.6 L329.0,228.2 L329.6,226.0 L330.3,224.0 L330.9,222.1 L331.5,220.4 L332.1,219.0 L332.7,217.9 L333.4,217.1 L334.0,216.5 L334.6,216.3 L335.2,216.5 L335.8,217.4 L336.5,219.0 L337.1,221.0 L337.7,223.6 L338.3,226.6 L338.9,229.9 L339.6,233.4 L340.2,237.3 L340.8,242.9 L341.4,249.5 L342.0,257.2 L342.7,265.8 L343.3,275.7 L343.9,265.6 L344.5,255.5 L345.1,246.2 L345.8,237.5 L346.4,229.5 L347.0,222.1 L347.6,215.4 L348.2,209.4 L348.9,204.0 L349.5,199.3 L350.1,195.2 L350.7,191.7 L351.3,188.9 L352.0,186.6 L352.6,185.0 L353.2,183.9 L353.8,183.4 L354.4,183.3 L355.1,183.7 L355.7,184.5 L356.3,185.9 L356.9,187.7 L357.5,190.1 L358.2,193.0 L358.8,196.5 L359.4,200.5 L360.0,205.1 L360.6,210.2 L361.3,216.0 L361.9,222.3 L362.5,229.2 L363.1,236.7 L363.7,244.8 L364.4,253.5 L365.0,253.5 L365.6,242.9 L366.2,233.1 L366.8,224.2 L367.5,216.0 L368.1,208.7 L368.7,202.2 L369.3,196.4 L369.9,191.5 L370.6,187.3 L371.2,183.8 L371.8,181.1 L372.4,179.2 L373.0,177.9 L373.7,177.3 L374.3,177.3 L374.9,177.7 L375.5,178.8 L376.1,180.4 L376.8,182.7 L377.4,185.6 L378.0,189.2 L378.6,193.4 L379.2,198.4 L379.9,204.0 L380.5,210.3 L381.1,217.3 L381.7,225.0 L382.3,233.4 L383.0,242.5 L383.6,252.4 L384.2,248.8 L384.8,238.5 L385.4,229.2 L386.1,220.9 L386.7,213.5 L387.3,207.1 L387.9,201.6 L388.5,197.0 L389.2,193.4 L389.8,190.6 L390.4,188.7 L391.0,187.7 L391.6,187.4 L392.3,187.7 L392.9,188.7 L393.5,190.4 L394.1,192.8 L394.7,195.9 L395.4,199.9 L396.0,204.6 L396.6,210.1 L397.2,216.4 L397.8,223.5 L398.5,231.4 L399.1,240.2 L399.7,249.8 L400.3,260.2 L400.9,271.6 L401.6,274.7 L402.2,266.9 L402.8,259.8 L403.4,253.4 L404.0,247.9 L404.7,243.3 L405.3,239.4 L405.9,236.3 L406.5,234.0 L407.1,232.4 L407.8,231.5 L408.4,231.3 L409.0,231.9 L409.6,233.5 L410.2,236.1 L410.9,239.6 L411.5,244.0 L412.1,249.5 L412.7,255.9 L413.3,263.3 L414.0,271.7 L414.6,280.9 L415.2,298.4 L415.8,302.6 L416.4,306.7 L417.1,313.5 L417.7,317.8 L418.3,319.4 L418.9,340.9 L419.5,430.0 L422.0,430.0 L422.6,344.9 L423.3,430.0 L424.5,430.0 L425.1,386.1 L425.7,333.5 L426.4,430.0 L427.0,334.9 L427.6,338.0 L428.2,430.0 L429.5,430.0 L430.1,336.0 L430.7,430.0 L431.9,430.0 L432.6,351.6 L433.2,337.4 L433.8,345.7 L434.4,329.1 L435.0,333.2 L435.7,430.0 L436.3,348.8 L436.9,430.0 L437.5,364.6 L438.1,332.1 L438.8,382.7 L439.4,430.0 L441.9,430.0 L442.5,322.6 L443.1,324.7 L443.7,430.0 L444.3,336.1 L445.0,343.3 L445.6,430.0 L446.2,330.4 L446.8,430.0 L447.4,327.8 L448.1,334.9 L448.7,341.3 L449.3,346.5 L449.9,430.0 L452.4,430.0 L453.0,396.5 L453.6,430.0 L454.3,330.3 L454.9,358.4 L455.5,338.2 L456.1,325.5 L456.7,430.0 L457.4,333.0 L458.0,430.0 L458.6,430.0 L459.2,348.6 L459.8,339.8 L460.5,334.0 L461.1,430.0 L461.7,430.0 L462.3,338.3 L462.9,335.8 L463.6,430.0 L464.2,430.0 L464.8,350.2 L465.4,341.8 L466.0,430.0 L466.7,338.0 L467.3,430.0 L469.1,430.0 L469.8,338.7 L470.4,430.0 L471.0,336.5 L471.6,430.0 L473.5,430.0 L474.1,333.3 L474.7,430.0 L475.3,322.6 L476.0,430.0 L476.6,430.0 L477.2,327.9 L477.8,430.0 L478.4,333.4 L479.1,430.0 L480.9,430.0 L481.5,328.8 L482.2,430.0 L482.8,331.6 L483.4,344.1 L484.0,430.0 L484.6,327.9 L485.3,430.0 L485.9,430.0 L486.5,333.2 L487.1,330.7 L487.7,337.6 L488.4,326.4 L489.0,341.9 L489.6,430.0 L491.5,430.0 L492.1,338.4 L492.7,332.1 L493.3,430.0 L493.9,334.1 L494.6,430.0 L495.2,338.6 L495.8,323.4 L496.4,430.0 L497.0,341.6 L497.7,331.4 L498.3,355.8 L498.9,325.4 L499.5,335.8 L500.1,338.9 L500.8,430.0 L501.4,340.6 L502.0,430.0 L503.2,430.0 L503.9,360.1 L504.5,338.1 L505.1,335.3 L505.7,430.0 L506.3,430.0 L507.0,337.6 L507.6,430.0 L508.2,331.6 L508.8,430.0 L509.4,430.0 L510.1,354.2 L510.7,430.0 L511.3,325.2 L511.9,430.0 L512.5,430.0 L513.2,361.6 L513.8,332.0 L514.4,430.0 L515.0,430.0 L515.6,330.2 L516.3,430.0 L516.9,333.5 L517.5,430.0 L518.1,430.0 L518.7,328.0 L519.4,430.0 L520.0,430.0 L520.6,361.9 L521.2,326.6 L521.8,430.0 L522.5,430.0 L523.1,334.0 L523.7,430.0 L524.3,430.0 L524.9,329.1 L525.6,430.0 L527.4,430.0 L528.0,333.9 L528.7,346.7 L529.3,335.6 L529.9,430.0 L531.1,430.0 L531.8,368.9 L532.4,430.0 L533.0,430.0 L533.6,326.6 L534.2,430.0 L538.6,430.0 L539.2,333.0 L539.8,332.9 L540.4,430.0 L541.7,430.0 L542.3,330.6 L542.9,430.0 L544.2,430.0 L544.8,358.9 L545.4,430.0 L546.0,430.0 L546.6,375.6 L547.3,430.0 L547.9,430.0 L548.5,348.5 L549.1,327.7 L549.7,339.5 L550.4,430.0 L551.0,340.4 L551.6,375.4 L552.2,430.0 L552.8,346.3 L553.5,430.0 L554.1,430.0 L554.7,347.7 L555.3,330.8 L555.9,430.0 L556.6,341.2 L557.2,430.0 L557.8,333.2 L558.4,430.0 L559.0,331.4 L559.7,356.7 L560.3,341.2 L560.9,387.8 L561.5,430.0 L562.8,430.0 L563.4,323.1 L564.0,430.0 L564.6,334.1 L565.2,430.0 L565.9,326.7 L566.5,337.7 L567.1,430.0 L570.2,430.0 L570.8,329.8 L571.4,430.0 L573.3,430.0 L573.9,360.1 L574.5,430.0 L575.2,337.1 L575.8,430.0 L577.6,430.0 L578.3,325.7 L578.9,336.5 L579.5,430.0 L580.7,430.0 L581.4,354.3 L582.0,430.0 L582.6,430.0 L583.2,331.1 L583.8,430.0 L584.5,348.7 L585.1,334.6 L585.7,380.6 L586.3,430.0 L586.9,327.3 L587.6,342.9 L588.2,331.9 L588.8,430.0 L589.4,430.0 L590.0,360.1 L590.7,430.0 L591.3,430.0 L591.9,346.2 L592.5,430.0 L593.1,430.0 L593.8,329.3 L594.4,327.4 L595.0,328.8 L595.6,430.0 L596.2,347.9 L596.9,430.0 L597.5,430.0 L598.1,324.1 L598.7,343.8 L599.3,430.0 L600.0,430.0 L600.6,361.2 L601.2,346.0 L601.8,430.0 L602.4,430.0 L603.1,332.1 L603.7,338.4 L604.3,430.0 L604.9,430.0 L605.5,338.7 L606.2,430.0 L606.8,339.1 L607.4,333.5 L608.0,430.0 L608.6,349.6 L609.3,430.0 L609.9,332.3 L610.5,351.4 L611.1,357.3 L611.7,430.0 L613.0,430.0 L613.6,327.4 L614.2,339.8 L614.8,343.5 L615.5,430.0 L616.1,343.6 L616.7,430.0 L617.3,347.4 L617.9,430.0 L618.6,430.0 L619.2,343.8 L619.8,331.9 L620.4,430.0 L621.0,430.0 L621.7,356.4 L622.3,430.0 L622.9,351.9 L623.5,363.1 L624.1,340.5 L624.8,430.0 L625.4,430.0 L626.0,329.1 L626.6,430.0 L627.2,335.4 L627.9,430.0 L629.7,430.0 L630.3,343.9 L631.0,330.8 L631.6,430.0 L632.2,331.3 L632.8,330.5 L633.4,349.8 L634.1,430.0 L634.7,337.9 L635.3,430.0 L635.9,430.0 L636.5,346.6 L637.2,368.2 L637.8,430.0 L638.4,347.4 L639.0,430.0 L639.6,430.0 L640.3,332.4 L640.9,430.0 L641.5,430.0 L642.1,357.7 L642.7,351.6 L643.4,329.9 L644.0,335.3 L644.6,350.5 L645.2,356.2 L645.8,430.0 L649.6,430.0"/>
<path class="ln" stroke="#9467bd" d="M89.3,309.1 L89.9,309.2 L90.5,309.1 L91.2,309.3 L91.8,309.2 L92.4,309.1 L93.0,309.4 L93.6,309.1 L94.3,309.3 L94.9,309.1 L95.5,309.1 L96.1,309.3 L96.7,309.4 L97.4,309.3 L98.0,308.9 L98.6,309.2 L99.2,309.1 L99.8,309.1 L100.5,309.0 L101.1,309.1 L101.7,309.0 L102.3,309.0 L102.9,309.2 L103.6,309.1 L104.2,309.2 L104.8,309.2 L105.4,308.9 L106.0,309.0 L106.7,308.9 L107.3,309.3 L107.9,309.1 L108.5,308.8 L109.1,309.3 L109.8,308.9 L110.4,308.9 L111.0,309.2 L111.6,309.0 L112.2,309.0 L112.9,308.9 L113.5,308.7 L114.1,308.9 L114.7,309.0 L115.3,309.0 L116.0,308.8 L116.6,308.8 L117.2,308.9 L117.8,308.6 L118.4,308.6 L119.1,308.5 L119.7,308.9 L120.3,308.9 L120.9,308.8 L121.5,308.7 L122.2,308.9 L122.8,309.1 L123.4,308.4 L124.0,308.5 L124.6,308.8 L125.3,308.5 L125.9,308.5 L126.5,308.5 L127.1,308.9 L127.7,308.8 L128.4,308.6 L129.0,308.4 L129.6,308.5 L130.2,308.6 L130.8,308.6 L131.5,308.6 L132.1,308.6 L132.7,308.4 L133.3,308.4 L133.9,308.6 L134.6,308.7 L135.2,308.3 L135.8,308.4 L136.4,308.7 L137.0,308.7 L137.7,308.5 L138.3,308.5 L138.9,308.4 L139.5,308.5 L140.1,308.4 L140.8,308.5 L141.4,308.5 L142.0,308.4 L142.6,308.5 L143.2,308.4 L143.9,308.3 L144.5,308.0 L145.1,308.4 L145.7,308.2 L146.3,308.3 L147.0,308.2 L147.6,308.6 L148.2,308.7 L148.8,308.1 L149.4,308.3 L150.1,308.4 L150.7,308.5 L151.3,308.1 L151.9,308.4 L152.5,308.4 L153.2,308.4 L153.8,308.2 L154.4,308.1 L155.0,308.2 L155.6,308.2 L156.3,308.0 L156.9,308.5 L157.5,308.2 L158.1,308.1 L158.7,308.2 L159.4,308.1 L160.0,308.0 L160.6,308.0 L161.2,308.2 L161.8,308.3 L162.5,308.1 L163.1,307.9 L163.7,308.4 L164.3,308.0 L164.9,308.1 L165.6,307.7 L166.2,307.8 L166.8,308.0 L167.4,307.6 L168.0,308.0 L168.7,307.8 L169.3,307.8 L169.9,307.8 L170.5,308.0 L171.1,307.8 L171.8,307.7 L172.4,307.9 L173.0,307.6 L173.6,307.9 L174.2,307.8 L174.9,308.0 L175.5,307.7 L176.1,307.6 L176.7,307.7 L177.3,307.9 L178.0,307.7 L178.6,307.7 L179.2,308.0 L179.8,307.3 L180.4,307.7 L181.1,307.5 L181.7,307.5 L182.3,307.6 L182.9,307.5 L183.5,307.5 L184.2,307.7 L184.8,307.3 L185.4,307.5 L186.0,307.6 L186.6,307.6 L187.3,307.6 L187.9,307.3 L188.5,307.2 L189.1,307.3 L189.7,307.7 L190.4,307.6 L191.0,307.3 L191.6,307.7 L192.2,307.3 L192.8,307.4 L193.5,307.3 L194.1,307.4 L194.7,307.1 L195.3,306.9 L195.9,307.3 L196.6,307.2 L197.2,307.3 L197.8,307.5 L198.4,307.4 L199.0,307.1 L199.7,307.3 L200.3,307.4 L200.9,307.0 L201.5,307.0 L202.1,307.0 L202.8,307.2 L203.4,307.3 L204.0,307.0 L204.6,307.0 L205.2,307.3 L205.9,307.2 L206.5,307.3 L207.1,306.8 L207.7,306.8 L208.3,307.1 L209.0,307.1 L209.6,307.0 L210.2,306.8 L210.8,306.8 L211.4,306.8 L212.1,307.0 L212.7,307.0 L213.3,306.8 L213.9,306.8 L214.5,306.6 L215.2,306.9 L215.8,306.8 L216.4,306.6 L217.0,306.8 L217.6,306.8 L218.3,306.6 L218.9,307.1 L219.5,306.7 L220.1,306.7 L220.7,306.6 L221.4,306.7 L222.0,306.7 L222.6,306.5 L223.2,306.6 L223.8,306.5 L224.5,306.6 L225.1,306.6 L225.7,306.4 L226.3,306.7 L226.9,306.4 L227.6,306.4 L228.2,306.6 L228.8,306.3 L229.4,306.3 L230.0,306.6 L230.7,306.6 L231.3,306.6 L231.9,306.5 L232.5,306.5 L233.1,306.4 L233.8,306.4 L234.4,306.4 L235.0,306.3 L235.6,306.1 L236.2,306.1 L236.9,306.2 L237.5,306.4 L238.1,306.4 L238.7,306.3 L239.3,306.3 L240.0,306.2 L240.6,306.3 L241.2,306.2 L241.8,306.4 L242.4,306.1 L243.1,306.2 L243.7,306.1 L244.3,306.2 L244.9,306.0 L245.5,306.0 L246.2,306.2 L246.8,306.1 L247.4,306.0 L248.0,306.0 L248.6,306.1 L249.3,305.9 L249.9,305.9 L250.5,306.1 L251.1,306.0 L251.7,306.1 L252.4,305.9 L253.0,305.8 L253.6,306.0 L254.2,305.8 L254.8,305.8 L255.5,306.0 L256.1,305.8 L256.7,305.8 L257.3,305.8 L257.9,305.9 L258.6,305.7 L259.2,305.7 L259.8,305.5 L260.4,305.6 L261.0,305.7 L261.7,305.5 L262.3,305.6 L262.9,305.5 L263.5,305.6 L264.1,305.7 L264.8,305.5 L265.4,305.5 L266.0,305.7 L266.6,305.4 L267.2,305.8 L267.9,305.5 L268.5,305.4 L269.1,305.5 L269.7,305.6 L270.3,305.4 L271.0,305.5 L271.6,305.5 L272.2,305.4 L272.8,305.3 L273.4,305.3 L274.1,305.3 L274.7,305.3 L275.3,305.5 L275.9,305.2 L276.5,305.3 L277.2,305.2 L277.8,305.3 L278.4,305.4 L279.0,305.3 L279.6,305.2 L280.3,305.2 L280.9,305.1 L281.5,305.1 L282.1,305.1 L282.7,305.3 L283.4,305.1 L284.0,305.0 L284.6,304.9 L285.2,304.7 L285.8,304.6 L286.5,303.9 L287.1,302.9 L287.7,302.0 L288.3,300.9 L288.9,300.2 L289.6,299.5 L290.2,298.8 L290.8,298.4 L291.4,298.0 L292.0,297.7 L292.7,297.9 L293.3,298.2 L293.9,298.2 L294.5,298.4 L295.1,298.7 L295.8,299.4 L296.4,299.8 L297.0,300.1 L297.6,300.6 L298.2,301.0 L298.9,301.4 L299.5,301.9 L300.1,302.3 L300.7,302.5 L301.3,302.6 L302.0,302.5 L302.6,302.2 L303.2,302.0 L303.8,301.5 L304.4,300.5 L305.1,299.1 L305.7,297.3 L306.3,295.1 L306.9,292.3 L307.5,289.5 L308.2,286.8 L308.8,284.3 L309.4,282.2 L310.0,280.4 L310.6,279.3 L311.3,278.6 L311.9,277.9 L312.5,278.3 L313.1,279.2 L313.7,280.6 L314.4,282.5 L315.0,284.6 L315.6,287.0 L316.2,289.6 L316.8,292.0 L317.5,294.1 L318.1,295.9 L318.7,297.2 L319.3,297.9 L319.9,298.4 L320.6,298.8 L321.2,298.6 L321.8,298.5 L322.4,297.8 L323.0,296.8 L323.7,294.6 L324.3,291.3 L324.9,286.7 L325.5,281.4 L326.1,275.7 L326.8,269.9 L327.4,264.5 L328.0,259.6 L328.6,255.1 L329.2,251.3 L329.9,248.0 L330.5,245.4 L331.1,243.4 L331.7,242.1 L332.3,241.4 L333.0,241.5 L333.6,242.0 L334.2,243.2 L334.8,244.9 L335.4,247.2 L336.1,250.2 L336.7,253.7 L337.3,257.9 L337.9,262.6 L338.5,267.9 L339.2,273.9 L339.8,280.4 L340.4,287.5 L341.0,294.5 L341.6,283.3 L342.3,272.6 L342.9,262.6 L343.5,253.2 L344.1,244.4 L344.7,236.2 L345.4,228.6 L346.0,221.7 L346.6,215.4 L347.2,209.8 L347.8,204.7 L348.5,200.3 L349.1,196.6 L349.7,193.4 L350.3,190.9 L350.9,189.0 L351.6,187.7 L352.2,187.1 L352.8,187.1 L353.4,188.2 L354.0,190.4 L354.7,193.7 L355.3,198.1 L355.9,203.5 L356.5,210.1 L357.1,217.8 L357.8,226.6 L358.4,236.4 L359.0,247.4 L359.6,259.5 L360.2,272.7 L360.9,270.3 L361.5,257.0 L362.1,244.6 L362.7,233.2 L363.3,222.7 L364.0,213.1 L364.6,204.4 L365.2,196.7 L365.8,190.0 L366.4,184.1 L367.1,179.2 L367.7,175.3 L368.3,172.2 L368.9,170.1 L369.5,169.0 L370.2,168.7 L370.8,169.3 L371.4,170.6 L372.0,172.6 L372.6,175.4 L373.3,178.9 L373.9,183.1 L374.5,188.0 L375.1,193.7 L375.7,200.2 L376.4,207.3 L377.0,215.2 L377.6,223.9 L378.2,233.2 L378.8,243.3 L379.5,254.2 L380.1,265.7 L380.7,269.5 L381.3,256.1 L381.9,243.6 L382.6,232.0 L383.2,221.2 L383.8,211.4 L384.4,202.3 L385.0,194.2 L385.7,186.9 L386.3,180.6 L386.9,175.0 L387.5,170.4 L388.1,166.6 L388.8,163.8 L389.4,161.7 L390.0,160.6 L390.6,160.3 L391.2,160.9 L391.9,162.3 L392.5,164.5 L393.1,167.5 L393.7,171.4 L394.3,176.0 L395.0,181.5 L395.6,187.8 L396.2,195.0 L396.8,202.9 L397.4,211.7 L398.1,221.2 L398.7,231.6 L399.3,242.9 L399.9,254.9 L400.5,257.4 L401.2,244.5 L401.8,232.5 L402.4,221.6 L403.0,211.7 L403.6,202.8 L404.3,194.9 L404.9,188.0 L405.5,182.1 L406.1,177.2 L406.7,173.4 L407.4,170.5 L408.0,168.7 L408.6,167.9 L409.2,168.0 L409.8,169.2 L410.5,171.4 L411.1,174.5 L411.7,178.7 L412.3,183.8 L412.9,189.9 L413.6,197.1 L414.2,205.2 L414.8,214.3 L415.4,224.4 L416.0,235.5 L416.7,247.6 L417.3,260.6 L417.9,256.8 L418.5,244.3 L419.1,232.8 L419.8,222.5 L420.4,213.2 L421.0,205.1 L421.6,198.0 L422.2,192.1 L422.9,187.2 L423.5,183.4 L424.1,180.8 L424.7,179.2 L425.3,178.7 L426.0,179.2 L426.6,180.7 L427.2,183.2 L427.8,186.6 L428.4,190.9 L429.1,196.2 L429.7,202.5 L430.3,209.6 L430.9,217.8 L431.5,226.9 L432.2,237.0 L432.8,248.0 L433.4,259.9 L434.0,272.8 L434.6,286.7 L435.3,296.9 L435.9,298.7 L436.5,300.1 L437.1,300.7 L437.7,301.4 L438.4,301.9 L439.0,302.4 L439.6,302.6 L440.2,302.8 L440.8,303.2 L441.5,303.5 L442.1,303.7 L442.7,304.0 L443.3,304.1 L443.9,304.5 L444.6,304.7 L445.2,304.9 L445.8,305.1 L446.4,305.2 L447.0,305.4 L447.7,305.3 L448.3,305.7 L448.9,305.9 L449.5,306.3 L450.1,306.3 L450.8,306.2 L451.4,306.6 L452.0,306.6 L452.6,306.7 L453.2,306.9 L453.9,306.8 L454.5,307.0 L455.1,307.0 L455.7,306.8 L456.3,307.0 L457.0,307.3 L457.6,307.1 L458.2,307.4 L458.8,307.3 L459.4,307.4 L460.1,307.4 L460.7,307.7 L461.3,307.8 L461.9,307.8 L462.5,307.9 L463.2,308.0 L463.8,308.2 L464.4,308.2 L465.0,308.2 L465.6,308.2 L466.3,308.5 L466.9,308.3 L467.5,308.5 L468.1,308.6 L468.7,308.7 L469.4,308.5 L470.0,308.5 L470.6,308.5 L471.2,308.5 L471.8,308.6 L472.5,308.5 L473.1,308.8 L473.7,308.3 L474.3,308.6 L474.9,308.6 L475.6,308.6 L476.2,308.6 L476.8,309.0 L477.4,308.9 L478.0,308.7 L478.7,308.7 L479.3,308.7 L479.9,308.7 L480.5,308.8 L481.1,308.9 L481.8,308.6 L482.4,308.9 L483.0,308.7 L483.6,309.0 L484.2,308.9 L484.9,308.8 L485.5,308.7 L486.1,308.9 L486.7,308.7 L487.3,309.0 L488.0,308.9 L488.6,308.8 L489.2,309.2 L489.8,309.1 L490.4,308.9 L491.1,309.4 L491.7,309.1 L492.3,308.9 L492.9,309.0 L493.5,309.1 L494.2,309.2 L494.8,309.3 L495.4,309.4 L496.0,309.3 L496.6,309.1 L497.3,309.6 L497.9,309.4 L498.5,309.1 L499.1,309.3 L499.7,309.3 L500.4,309.2 L501.0,309.0 L501.6,309.1 L502.2,309.1 L502.8,309.5 L503.5,309.4 L504.1,309.5 L504.7,308.9 L505.3,309.2 L505.9,309.4 L506.6,309.4 L507.2,309.5 L507.8,309.6 L508.4,309.4 L509.0,309.3 L509.7,309.8 L510.3,309.5 L510.9,309.3 L511.5,309.3 L512.1,309.2 L512.8,309.6 L513.4,309.8 L514.0,309.6 L514.6,309.6 L515.2,309.8 L515.9,309.9 L516.5,309.7 L517.1,309.7 L517.7,309.8 L518.3,309.7 L519.0,309.8 L519.6,310.0 L520.2,309.7 L520.8,309.9 L521.4,309.7 L522.1,309.8 L522.7,309.9 L523.3,309.6 L523.9,309.8 L524.5,309.6 L525.2,310.0 L525.8,310.0 L526.4,310.0 L527.0,309.9 L527.6,309.7 L528.3,309.6 L528.9,310.0 L529.5,310.1 L530.1,310.1 L530.7,309.7 L531.4,310.0 L532.0,310.0 L532.6,310.3 L533.2,310.1 L533.8,310.0 L534.5,310.2 L535.1,310.2 L535.7,310.1 L536.3,309.9 L536.9,310.1 L537.6,310.1 L538.2,310.1 L538.8,310.1 L539.4,310.4 L540.0,310.0 L540.7,310.2 L541.3,310.1 L541.9,310.0 L542.5,310.2 L543.1,310.2 L543.8,310.3 L544.4,310.2 L545.0,310.3 L545.6,310.4 L546.2,310.2 L546.9,310.4 L547.5,310.4 L548.1,310.7 L548.7,310.2 L549.3,310.4 L550.0,310.1 L550.6,310.7 L551.2,310.3 L551.8,310.5 L552.4,310.1 L553.1,310.7 L553.7,310.4 L554.3,310.7 L554.9,310.6 L555.5,310.4 L556.2,310.2 L556.8,310.6 L557.4,310.3 L558.0,310.6 L558.6,310.7 L559.3,310.5 L559.9,310.3 L560.5,310.6 L561.1,310.9 L561.7,310.9 L562.4,310.6 L563.0,310.5 L563.6,310.8 L564.2,310.7 L564.8,310.5 L565.5,310.3 L566.1,310.8 L566.7,310.5 L567.3,310.8 L567.9,310.8 L568.6,310.8 L569.2,310.9 L569.8,310.6 L570.4,310.8 L571.0,310.6 L571.7,311.0 L572.3,310.8 L572.9,310.5 L573.5,310.6 L574.1,310.9 L574.8,310.8 L575.4,310.7 L576.0,310.9 L576.6,310.7 L577.2,310.7 L577.9,311.0 L578.5,311.0 L579.1,311.0 L579.7,311.2 L580.3,311.2 L581.0,311.3 L581.6,311.0 L582.2,310.8 L582.8,311.0 L583.4,311.0 L584.1,311.4 L584.7,311.1 L585.3,310.6 L585.9,310.9 L586.5,311.2 L587.2,311.1 L587.8,311.3 L588.4,311.2 L589.0,311.3 L589.6,311.2 L590.3,311.5 L590.9,311.3 L591.5,311.1 L592.1,311.3 L592.7,311.0 L593.4,310.9 L594.0,310.9 L594.6,311.3 L595.2,311.4 L595.8,311.2 L596.5,311.0 L597.1,311.4 L597.7,311.5 L598.3,311.4 L598.9,311.5 L599.6,311.4 L600.2,311.5 L600.8,311.8 L601.4,311.4 L602.0,311.2 L602.7,311.5 L603.3,311.4 L603.9,311.5 L604.5,311.4 L605.1,311.6 L605.8,311.6 L606.4,311.6 L607.0,311.4 L607.6,311.6 L608.2,311.4 L608.9,311.5 L609.5,311.9 L610.1,311.7 L610.7,311.6 L611.3,311.7 L612.0,311.7 L612.6,311.6 L613.2,311.6 L613.8,311.7 L614.4,311.2 L615.1,311.7 L615.7,311.5 L616.3,311.7 L616.9,311.6 L617.5,312.0 L618.2,311.7 L618.8,311.7 L619.4,311.8 L620.0,311.6 L620.6,311.5 L621.3,311.6 L621.9,311.6 L622.5,311.7 L623.1,311.9 L623.7,311.9 L624.4,311.8 L625.0,311.7 L625.6,311.3 L626.2,311.9 L626.8,312.0 L627.5,312.1 L628.1,312.1 L628.7,311.9 L629.3,312.0 L629.9,312.1 L630.6,311.8 L631.2,312.2 L631.8,311.9 L632.4,312.0 L633.0,311.8 L633.7,312.2 L634.3,312.0 L634.9,311.9 L635.5,311.9 L636.1,312.1 L636.8,312.0 L637.4,312.1 L638.0,311.9 L638.6,312.2 L639.2,312.4 L639.9,311.9 L640.5,311.8 L641.1,312.0 L641.7,312.2 L642.3,312.1 L643.0,312.1 L643.6,311.9 L644.2,312.3 L644.8,312.2 L645.4,312.0 L646.1,312.3 L646.7,312.3 L647.3,312.2 L647.9,312.1 L648.5,312.6 L649.2,312.3"/>
</g>
<rect x="90.5" y="52.5" width="558" height="326" fill="none" stroke="#cccccc" stroke-width="1"/>
<g font-size="14.6"><text x="90.4" y="391.5" text-anchor="middle" textLength="23.0" lengthAdjust="spacingAndGlyphs">840</text><text x="164.8" y="391.5" text-anchor="middle" textLength="23.0" lengthAdjust="spacingAndGlyphs">842</text><text x="239.2" y="391.5" text-anchor="middle" textLength="23.0" lengthAdjust="spacingAndGlyphs">844</text><text x="313.6" y="391.5" text-anchor="middle" textLength="23.0" lengthAdjust="spacingAndGlyphs">846</text><text x="388.0" y="391.5" text-anchor="middle" textLength="23.0" lengthAdjust="spacingAndGlyphs">848</text><text x="462.4" y="391.5" text-anchor="middle" textLength="23.0" lengthAdjust="spacingAndGlyphs">850</text><text x="536.8" y="391.5" text-anchor="middle" textLength="23.0" lengthAdjust="spacingAndGlyphs">852</text><text x="611.2" y="391.5" text-anchor="middle" textLength="23.0" lengthAdjust="spacingAndGlyphs">854</text><text x="86.2" y="57.2" text-anchor="end" textLength="15.3" lengthAdjust="spacingAndGlyphs">20</text><text x="86.2" y="116.5" text-anchor="end" textLength="7.7" lengthAdjust="spacingAndGlyphs">0</text><text x="86.2" y="175.7" text-anchor="end" textLength="23.4" lengthAdjust="spacingAndGlyphs">−20</text><text x="86.2" y="235.0" text-anchor="end" textLength="23.4" lengthAdjust="spacingAndGlyphs">−40</text><text x="86.2" y="294.3" text-anchor="end" textLength="23.4" lengthAdjust="spacingAndGlyphs">−60</text><text x="86.2" y="353.6" text-anchor="end" textLength="23.4" lengthAdjust="spacingAndGlyphs">−80</text></g>
<text x="368.8" y="45.6" font-size="16.8" text-anchor="middle" textLength="161.3" lengthAdjust="spacingAndGlyphs">D4561 V20510 Ch. 2</text>
<text x="368.8" y="411.9" font-size="16.8" text-anchor="middle" textLength="130" lengthAdjust="spacingAndGlyphs">Wavelength [nm]</text>
<text transform="translate(54.2,215.2) rotate(-90)" font-size="16.8" text-anchor="middle" textLength="142.3" lengthAdjust="spacingAndGlyphs">Optical Power [dB]</text>
<rect x="97.5" y="59.5" width="149.3" height="88.8" rx="2.5" ry="2.5" fill="#ffffff" fill-opacity="0.8" stroke="#cccccc" stroke-opacity="0.8" stroke-width="1"/>
<g class="lg"><path stroke="#bcbd22" d="M103.1,71H131.8"/><path stroke="#ff7f0e" d="M103.1,91.9H131.8"/><path stroke="#d62728" d="M103.1,112.9H131.8"/><path stroke="#9467bd" d="M103.1,133.8H131.8"/></g>
<g font-size="14.4"><text x="143.2" y="75.8">OptoBoard QA</text><text x="143.2" y="96.7">Post Burn-In</text><text x="143.2" y="117.6">Pre Burn-In</text><text x="143.2" y="138.5">Reception Test</text></g>
</svg>
</body></html>
